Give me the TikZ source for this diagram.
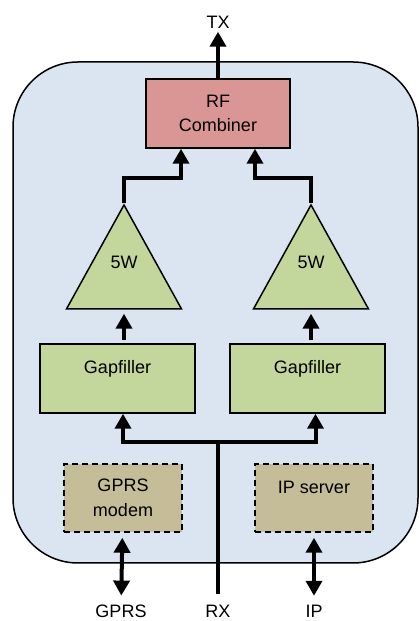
\documentclass[tikz,border=0pt]{standalone}
\usepackage{fontspec}
\setmainfont{Liberation Sans}
\usetikzlibrary{shapes.geometric, arrows.meta, positioning}

\definecolor{unitblue}{HTML}{DBE5F1}
\definecolor{combred}{HTML}{D99694}
\definecolor{ampgreen}{HTML}{C3D69B}
\definecolor{auxtan}{HTML}{C4BD97}

\begin{document}
\begin{tikzpicture}[
    x=1pt, y=1pt,
    font=\fontsize{18}{24.5}\selectfont,
    frame/.style    = {draw, line width=1.5pt, fill=unitblue, rectangle, rounded corners=65pt,
                       minimum width=405pt, minimum height=501pt},
    combiner/.style = {draw, line width=1.5pt, fill=combred, rectangle, align=center,
                       minimum width=144pt, minimum height=69pt},
    amp/.style      = {draw, line width=1.5pt, fill=ampgreen, isosceles triangle,
                       isosceles triangle stretches, shape border rotate=90,
                       minimum width=115pt, minimum height=104pt, inner sep=0pt,
                       text height=13pt, text depth=28pt},
    filler/.style   = {draw, line width=1.5pt, fill=ampgreen, rectangle,
                       minimum width=155pt, minimum height=69pt,
                       text height=13pt, text depth=23pt},
    aux/.style      = {draw, line width=1.5pt, dash pattern=on 6pt off 4pt, fill=auxtan,
                       rectangle, align=center, minimum width=118pt, minimum height=68pt},
    wire/.style     = {draw, line width=4pt},
    edge/.style     = {wire, -{Triangle[width=16pt, length=15pt]}},
    both/.style     = {wire, {Triangle[width=16pt, length=15pt]}-{Triangle[width=16pt, length=15pt]}},
  ]
  \useasboundingbox (0,0) rectangle (419,621);

  \node[frame] (unit) at (215.5,308.5) {};
  \node[combiner] (comb) at (218,507.5) {RF\\Combiner};
  \node (tx) at (218,599) {TX};
  \node[amp, anchor=apex] (amp1) at (124,418) {5W};
  \node[amp, anchor=apex] (amp2) at (311,418) {5W};
  \node[filler] (gap1) at (117.5,242.5) {Gapfiller};
  \node[filler] (gap2) at (307.5,242.5) {Gapfiller};
  \node[aux] (modem) at (123,123) {GPRS\\modem};
  \node[aux, text height=13pt, text depth=22pt] (ipsrv) at (314,123) {IP server};
  \node (gprs) at (121,9.5) {GPRS};
  \node (rx) at (218,9.5) {RX};
  \node (ip) at (314,9.5) {IP};
  \coordinate (split) at (218,179);

  \draw[edge] (comb.north) -- (tx);
  \draw[edge] (amp1.apex) -- ++(0,25) -| ([xshift=-37pt]comb.south);
  \draw[edge] (amp2.apex) -- ++(0,25) -| ([xshift=37pt]comb.south);
  \draw[edge, shorten <=3pt, shorten >=4pt] (gap1.north -| amp1.apex) -- (amp1.apex |- amp1.lower side);
  \draw[edge, shorten <=3pt, shorten >=4pt] (gap2.north -| amp2.apex) -- (amp2.apex |- amp2.lower side);
  \draw[wire, shorten <=8pt] (rx) -- (split);
  \draw[edge] (split) -| ([xshift=5.5pt]gap1.south);
  \draw[edge] (split) -| ([xshift=8pt]gap2.south);
  \draw[both, shorten <=5pt, shorten >=6pt] (modem) -- (gprs);
  \draw[both, shorten <=5pt, shorten >=6pt] (ipsrv) -- (ip);
\end{tikzpicture}
\end{document}
